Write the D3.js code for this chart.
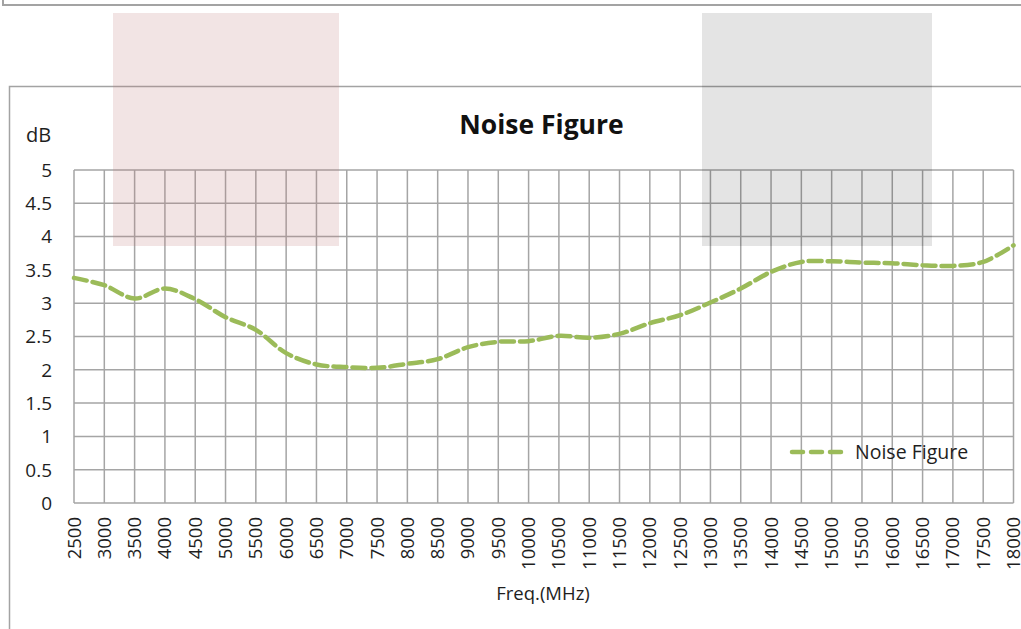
<!DOCTYPE html>
<html><head><meta charset="utf-8">
<script src="https://cdn.jsdelivr.net/npm/d3@7"></script>
<style>body{margin:0;background:#fff}svg{display:block}</style>
</head><body>
<script>
const freqs = [2500,3000,3500,4000,4500,5000,5500,6000,6500,7000,7500,8000,8500,9000,9500,10000,10500,11000,11500,12000,12500,13000,13500,14000,14500,15000,15500,16000,16500,17000,17500,18000];
const noiseFigure = [3.38,3.27,3.07,3.22,3.06,2.79,2.6,2.25,2.08,2.04,2.03,2.09,2.16,2.34,2.42,2.43,2.51,2.48,2.54,2.7,2.82,3.01,3.22,3.47,3.62,3.63,3.61,3.6,3.57,3.56,3.62,3.87];
const yTicks = [0,0.5,1,1.5,2,2.5,3,3.5,4,4.5,5];
const seriesName = "Noise Figure";
const titleText = "Noise Figure";
const yUnit = "dB";
const xTitle = "Freq.(MHz)";

const W = 1021, H = 629;
const font = "'Open Sans', sans-serif";
const svg = d3.select("body").append("svg").attr("width", W).attr("height", H);

// frames
svg.append("path").attr("d","M3,0 V5 H1021").attr("fill","none").attr("stroke","#a3a3a3").attr("stroke-width",2);
svg.append("path").attr("d","M9.5,629 V86.5 H1021").attr("fill","none").attr("stroke","#a3a3a3").attr("stroke-width",1.5);

const x = d3.scalePoint().domain(freqs).range([74, 1013.5]);
const y = d3.scaleLinear().domain([0,5]).range([503, 170]);

// grid
const g = svg.append("g");
g.selectAll(".hg").data(yTicks).join("line")
  .attr("x1", 74).attr("x2", 1013.5).attr("y1", d=>y(d)).attr("y2", d=>y(d))
  .attr("stroke","#a5a5a5").attr("stroke-width",1.5);
g.selectAll(".vg").data(freqs).join("line")
  .attr("x1", d=>x(d)).attr("x2", d=>x(d)).attr("y1", y(5)).attr("y2", y(0))
  .attr("stroke","#a5a5a5").attr("stroke-width",1.5);

// y axis labels
svg.append("g").selectAll("text").data(yTicks).join("text")
  .attr("x", 52).attr("y", d=>y(d)).attr("dy","0.36em").attr("text-anchor","end")
  .attr("font-family", font).attr("font-size", 19).attr("fill","#1e1e1e")
  .text(d=>d);
svg.append("text").attr("x", 26).attr("y", 142).attr("font-family", font).attr("font-size", 20).attr("fill","#1e1e1e").text(yUnit);

// x labels
svg.append("g").selectAll("text").data(freqs).join("text")
  .attr("transform", d=>`translate(${x(d)+6.5},517) rotate(-90)`)
  .attr("text-anchor","end")
  .attr("font-family", font).attr("font-size", 18.5).attr("fill","#1e1e1e")
  .text(d=>d);
svg.append("text").attr("x", 543).attr("y", 600).attr("text-anchor","middle")
  .attr("font-family", font).attr("font-size", 18.5).attr("fill","#1e1e1e").text(xTitle);

// title
svg.append("text").attr("x", 541.5).attr("y", 134).attr("text-anchor","middle")
  .attr("font-family", font).attr("font-size", 26.5).attr("font-weight","bold").attr("fill","#111").text(titleText);

// line
const line = d3.line().x((d,i)=>x(freqs[i])).y(d=>y(d)).curve(d3.curveCatmullRom.alpha(0.5));
svg.append("path").datum(noiseFigure).attr("d", line)
  .attr("fill","none").attr("stroke","#9bbb59").attr("stroke-width",4.5)
  .attr("stroke-dasharray","13 6").attr("stroke-linecap","round");

// legend
svg.append("line").attr("x1",792).attr("x2",842).attr("y1",452).attr("y2",452)
  .attr("stroke","#9bbb59").attr("stroke-width",4.5).attr("stroke-dasharray","11 8").attr("stroke-linecap","round");
svg.append("text").attr("x",855).attr("y",458.5)
  .attr("font-family", font).attr("font-size", 19.5).attr("fill","#1e1e1e").text(seriesName);

// overlay blocks
svg.append("rect").attr("x",113).attr("y",13).attr("width",226).attr("height",233).attr("fill","rgb(190,120,120)").attr("fill-opacity",0.2);
svg.append("rect").attr("x",702).attr("y",13).attr("width",230).attr("height",233).attr("fill","#000").attr("fill-opacity",0.106);
</script>
</body></html>
